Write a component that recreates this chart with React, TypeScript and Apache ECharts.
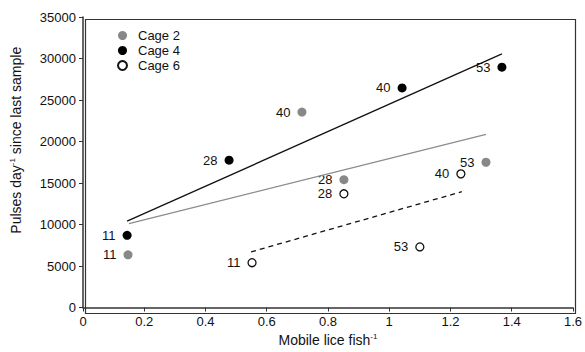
import React, { useEffect, useRef } from "react";
import * as echarts from "echarts";

const days = ["11", "28", "40", "53"];
const cage2X = [0.147, 0.852, 0.715, 1.316];
const cage2Y = [6350, 15400, 23550, 17500];
const cage4X = [0.144, 0.477, 1.042, 1.368];
const cage4Y = [8700, 17750, 26450, 28950];
const cage6X = [0.552, 0.852, 1.234, 1.1];
const cage6Y = [5400, 13700, 16100, 7300];

const trend2X = [0.15, 1.316];
const trend2Y = [10100, 20850];
const trend4X = [0.144, 1.368];
const trend4Y = [10400, 30550];
const trend6X = [0.549, 1.237];
const trend6Y = [6700, 13950];

const xTicks = [0, 0.2, 0.4, 0.6, 0.8, 1, 1.2, 1.4, 1.6];
const yTicks = [0, 5000, 10000, 15000, 20000, 25000, 30000, 35000];

const FONT = "Liberation Sans, Arial, sans-serif";
const TXT = "#111";

function pts(xs: number[], ys: number[], labels?: string[]) {
  return xs.map((x, i) => (labels ? [x, ys[i], labels[i]] : [x, ys[i]]));
}

export default function App() {
  const ref = useRef<HTMLDivElement>(null);
  useEffect(() => {
    if (!ref.current) return;
    const chart = echarts.init(ref.current, undefined, { renderer: "svg" });
    const pointLabel = {
      show: true,
      position: "left" as const,
      distance: 7,
      formatter: (p: any) => p.value[2],
      color: TXT,
      fontSize: 13,
      fontFamily: FONT,
    };
    const rich = {
      a: { fontSize: 14, fontFamily: FONT, color: TXT },
      s: { fontSize: 8, fontFamily: FONT, color: TXT, verticalAlign: "top" as const, padding: [0, 0, 7, 0] },
    };
    chart.setOption({
      animation: false,
      backgroundColor: "#fff",
      grid: { left: 83, right: 12, top: 17, bottom: 41 },
      legend: {
        orient: "vertical",
        left: 112,
        top: 23,
        itemWidth: 9,
        itemHeight: 9,
        itemGap: 0,
        icon: "circle",
        textStyle: { fontSize: 13, fontFamily: FONT, color: TXT, padding: [0, 0, 0, 6], lineHeight: 15 },
        data: ["Cage 2", "Cage 4", "Cage 6"],
      },
      xAxis: {
        type: "value",
        min: 0,
        max: 1.6,
        interval: 0.2,
        name: "{a|Mobile lice fish}{s|-1}",
        nameLocation: "middle",
        nameGap: 25,
        nameTextStyle: { rich },
        axisLine: { show: true, lineStyle: { color: "#333", width: 1.5 } },
        axisTick: { show: true, length: 4, lineStyle: { color: "#333" } },
        axisLabel: {
          fontSize: 13,
          fontFamily: FONT,
          color: TXT,
          margin: 7,
          formatter: (v: number) => String(xTicks.find((t) => Math.abs(t - v) < 1e-6) ?? v),
        },
        splitLine: { show: false },
      },
      yAxis: {
        type: "value",
        min: 0,
        max: 35000,
        interval: 5000,
        name: "{a|Pulses day}{s|-1}{a| since last sample}",
        nameLocation: "middle",
        nameGap: 60,
        nameTextStyle: { rich, padding: [0, 0, 0, 44] },
        axisLine: { show: true, lineStyle: { color: "#333", width: 1.5 } },
        axisTick: { show: true, length: 4, lineStyle: { color: "#333" } },
        axisLabel: {
          fontSize: 13,
          fontFamily: FONT,
          color: TXT,
          margin: 7,
          formatter: (v: number) => String(yTicks.find((t) => t === v) ?? v),
        },
        splitLine: { show: false },
      },
      graphic: [
        {
          type: "rect",
          left: 83,
          top: 17,
          shape: { width: 490, height: 294 },
          style: { fill: "none", stroke: "#333", lineWidth: 1.2 },
          silent: true,
        },
      ],
      series: [
        {
          name: "trend2",
          type: "line",
          data: pts(trend2X, trend2Y),
          symbol: "none",
          lineStyle: { color: "#8a8a8a", width: 1.2 },
          silent: true,
        },
        {
          name: "trend4",
          type: "line",
          data: pts(trend4X, trend4Y),
          symbol: "none",
          lineStyle: { color: "#111", width: 1.3 },
          silent: true,
        },
        {
          name: "trend6",
          type: "line",
          data: pts(trend6X, trend6Y),
          symbol: "none",
          lineStyle: { color: "#111", width: 1.3, type: [5, 4] },
          silent: true,
        },
        {
          name: "Cage 2",
          type: "scatter",
          data: pts(cage2X, cage2Y, days),
          symbol: "circle",
          symbolSize: 9,
          itemStyle: { color: "#888", opacity: 1 },
          label: pointLabel,
        },
        {
          name: "Cage 4",
          type: "scatter",
          data: pts(cage4X, cage4Y, days),
          symbol: "circle",
          symbolSize: 9,
          itemStyle: { color: "#000", opacity: 1 },
          label: pointLabel,
        },
        {
          name: "Cage 6",
          type: "scatter",
          data: pts(cage6X, cage6Y, days),
          symbol: "circle",
          symbolSize: 8,
          itemStyle: { color: "#fff", borderColor: "#111", borderWidth: 1.3, opacity: 1 },
          label: pointLabel,
        },
      ],
    });
    return () => chart.dispose();
  }, []);
  return <div ref={ref} style={{ width: 585, height: 352, position: "absolute", left: 0, top: 0 }} />;
}
